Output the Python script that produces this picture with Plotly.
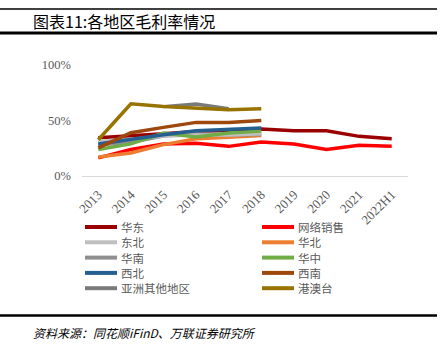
import plotly.graph_objects as go

categories = ["2013", "2014", "2015", "2016", "2017", "2018", "2019", "2020", "2021", "2022H1"]

huadong = [34.5, 36, 38, 40, 41, 42.3, 40.8, 40.8, 35.7, 33.6]
wangluo = [16.3, 23.8, 28.9, 29.4, 26.7, 30.7, 28.9, 23.8, 27.6, 26.7]
dongbei = [31, 33, 36, 37, 37, 38, None, None, None, None]
huabei = [17.2, 20.8, 28.3, 33.6, 34.8, 36.5, None, None, None, None]
huanan = [28, 30.5, 36, 38, 37, 37.5, None, None, None, None]
huazhong = [23.8, 28.9, 38.7, 35.2, 38.7, 40.5, None, None, None, None]
xibei = [28.9, 33.4, 37.2, 40.8, 42.3, 43.2, None, None, None, None]
xinan = [25.3, 39, 43.8, 48.3, 48.3, 50, None, None, None, None]
yazhou = [None, None, 62.5, 64.8, 60.5, None, None, None, None, None]
gangaotai = [32.7, 65, 62.6, 61, 59.6, 60.5, None, None, None, None]

series_names = ["华东", "网络销售", "东北", "华北", "华南", "华中", "西北", "西南", "亚洲其他地区", "港澳台"]
series_values = [huadong, wangluo, dongbei, huabei, huanan, huazhong, xibei, xinan, yazhou, gangaotai]
series_colors = ["#9A0000", "#FF0000", "#BFBFBF", "#ED7D31", "#8F8F8F", "#70AD47",
                 "#255E91", "#9E480E", "#7A7A7A", "#997300"]
# draw order (bottom to top) to mimic overlap
draw_order = [0, 1, 3, 4, 2, 5, 6, 7, 8, 9]

fig = go.Figure()
for i in draw_order:
    fig.add_trace(go.Scatter(
        x=categories, y=series_values[i], name=series_names[i],
        mode="lines", line=dict(color=series_colors[i], width=3.5),
        connectgaps=False, showlegend=False, hoverinfo="skip",
    ))

W, H = 448, 352
L, R, T, B = 82, 40, 65, 176
pw, ph = W - L - R, H - T - B


def px(x):
    return (x - L) / pw


def py(y):
    return (H - B - y) / ph


fig.update_layout(
    width=W, height=H,
    margin=dict(l=L, r=R, t=T, b=B, autoexpand=False),
    paper_bgcolor="white", plot_bgcolor="white",
    font=dict(family="Liberation Serif, Noto Sans CJK SC", color="#595959", size=11),
    xaxis=dict(
        type="category", range=[-0.5, 9.5], showgrid=False, automargin=False,
        showline=True, linecolor="#D9D9D9", linewidth=1,
        ticks="", tickangle=-45, ticklabelstandoff=5,
        tickfont=dict(family="Liberation Serif", size=13, color="#595959"),
    ),
    yaxis=dict(
        range=[0, 100], tickvals=[0, 50, 100], ticktext=["0%", "50%", "100%"],
        showgrid=False, zeroline=False, showline=False, automargin=False,
        tickfont=dict(family="Liberation Serif", size=12.5, color="#595959"),
        ticks="", ticklabelstandoff=10,
    ),
    showlegend=False,
)

# manual two-column legend
for i, name in enumerate(series_names):
    col, row = i % 2, i // 2
    x0 = 85 + col * 177
    yc = 227 + row * 15.3
    fig.add_shape(type="line", xref="paper", yref="paper",
                  x0=px(x0), x1=px(x0 + 32), y0=py(yc), y1=py(yc),
                  line=dict(color=series_colors[i], width=4))
    fig.add_annotation(text=name, xref="paper", yref="paper",
                       x=px(x0 + 35), y=py(yc), xanchor="left", yanchor="middle",
                       showarrow=False, borderpad=0,
                       font=dict(family="Noto Sans CJK SC", size=11.5, color="#595959"))

# header/footer rules
fig.add_shape(type="line", xref="paper", yref="paper", x0=px(0), x1=px(437), y0=py(9), y1=py(9),
              line=dict(color="black", width=1.5))
fig.add_shape(type="line", xref="paper", yref="paper", x0=px(0), x1=px(437), y0=py(33), y1=py(33),
              line=dict(color="black", width=3))
fig.add_shape(type="line", xref="paper", yref="paper", x0=px(0), x1=px(437), y0=py(315.5), y1=py(315.5),
              line=dict(color="black", width=2.5))

fig.add_annotation(text="图表11:各地区毛利率情况", xref="paper", yref="paper",
                   x=px(32), y=py(21), xanchor="left", yanchor="middle", showarrow=False,
                   borderpad=0,
                   font=dict(family="Noto Sans CJK SC", size=16, color="black"))
fig.add_annotation(text="<i>资料来源：同花顺iFinD、万联证券研究所</i>", xref="paper", yref="paper",
                   x=px(32), y=py(332), xanchor="left", yanchor="middle", showarrow=False,
                   borderpad=0,
                   font=dict(family="Noto Sans CJK SC", size=12, color="black"))

fig.write_html("out.html")
